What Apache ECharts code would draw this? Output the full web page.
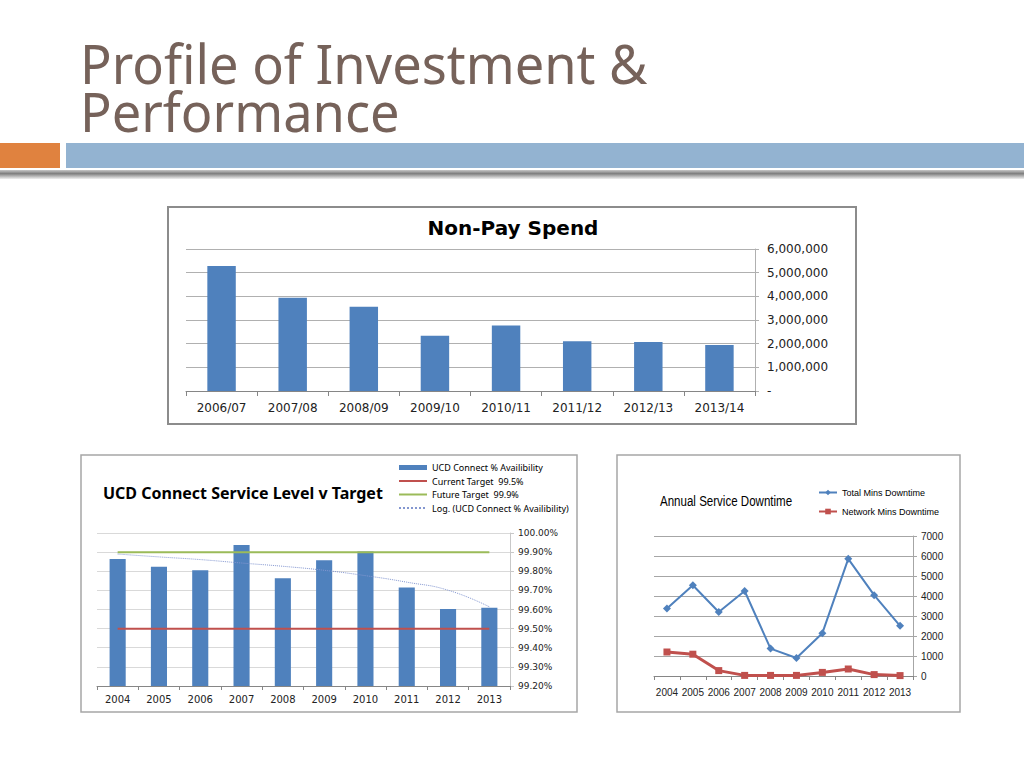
<!DOCTYPE html>
<html><head><meta charset="utf-8">
<script src="https://cdn.jsdelivr.net/npm/echarts@6/dist/echarts.min.js"></script>
<style>html,body{margin:0;padding:0;background:#fff}#c{width:1024px;height:768px}</style>
</head><body><div id="c"></div>
<script>
// ---- Data ----
const spendCategories = ['2006/07','2007/08','2008/09','2009/10','2010/11','2011/12','2012/13','2013/14'];
const spendValues = [5280000, 3940000, 3560000, 2330000, 2770000, 2100000, 2070000, 1940000];

const years = ['2004','2005','2006','2007','2008','2009','2010','2011','2012','2013'];
const availability = [99.864, 99.823, 99.805, 99.937, 99.763, 99.857, 99.903, 99.715, 99.603, 99.609];
const currentTarget = [99.5, 99.5, 99.5, 99.5, 99.5, 99.5, 99.5, 99.5, 99.5, 99.5];
const futureTarget = [99.9, 99.9, 99.9, 99.9, 99.9, 99.9, 99.9, 99.9, 99.9, 99.9];
const availabilityTrend = [99.890, 99.875, 99.861, 99.843, 99.826, 99.805, 99.777, 99.743, 99.701, 99.614];

const totalDowntime = [3370, 4540, 3200, 4250, 1370, 900, 2140, 5860, 4040, 2510];
const networkDowntime = [1200, 1090, 270, 30, 30, 30, 180, 350, 70, 20];

// ---- Styles ----
const BLUE = '#4f81bd', RED = '#c0504d', GREEN = '#9bbb59';
const NARROW = '"Liberation Sans Narrow","Liberation Sans",Arial,sans-serif';

const chart = echarts.init(document.getElementById('c'), null, {renderer: 'svg'});

function fmtThousands(v){
  if (v === 0) return '-';
  return String(v).replace(/\B(?=(\d{3})+(?!\d))/g, ',');
}

const hideSym = {opacity: 0};

const option = {
  animation: false,
  backgroundColor: '#ffffff',
  graphic: [
    {type:'rect', shape:{x:0,y:143,width:60,height:25}, style:{fill:'#e0823f'}},
    {type:'rect', shape:{x:66,y:143,width:958,height:25}, style:{fill:'#93b3d1'}},
    {type:'rect', shape:{x:0,y:170,width:1024,height:9}, style:{fill:new echarts.graphic.LinearGradient(0,0,0,1,[{offset:0,color:'#c8c8c8'},{offset:0.4,color:'#7f7f7f'},{offset:1,color:'#f0f0f0'}])}},
    {type:'text', x:80, y:63, scaleX:0.97, style:{x:0,y:0,text:'Profile of Investment &', fill:'#76625a', font:'54px "Noto Sans"', verticalAlign:'middle', align:'left'}},
    {type:'text', x:80, y:111, scaleX:0.97, style:{x:0,y:0,text:'Performance', fill:'#76625a', font:'54px "Noto Sans"', verticalAlign:'middle', align:'left'}},
    // chart frames
    {type:'rect', shape:{x:168,y:207,width:688,height:217}, style:{fill:'none', stroke:'#8c8c8c', lineWidth:2}},
    {type:'rect', shape:{x:81,y:455,width:496,height:257}, style:{fill:'none', stroke:'#a6a6a6', lineWidth:1.5}},
    {type:'rect', shape:{x:617,y:455,width:343,height:257}, style:{fill:'none', stroke:'#a6a6a6', lineWidth:1.5}},
    // chart titles
    {type:'text', x:513, y:228, style:{text:'Non-Pay Spend', fill:'#000', font:'bold 20px "DejaVu Sans"', align:'center', verticalAlign:'middle'}},
    {type:'text', x:103, y:493, style:{text:'UCD Connect Service Level v Target', fill:'#000', font:'bold 16px "Noto Sans"', align:'left', verticalAlign:'middle'}},
    {type:'text', x:660, y:501, scaleX:0.77, style:{x:0,y:0,text:'Annual Service Downtime', fill:'#000', font:'15px ' + NARROW, align:'left', verticalAlign:'middle'}}
  ],
  legend: [
    {
      orient:'vertical', left:398, top:463, padding:0, itemWidth:28, itemHeight:5, itemGap:4.5,
      textStyle:{fontSize:9, fontFamily:'"Noto Sans"', color:'#000'},
      data:[
        {name:'UCD Connect % Availibility', icon:'rect'},
        {name:'Current Target  99.5%', itemStyle:hideSym},
        {name:'Future Target  99.9%', itemStyle:hideSym},
        {name:'Log. (UCD Connect % Availibility)', itemStyle:hideSym}
      ]
    },
    {
      orient:'vertical', left:818, top:488, padding:0, itemWidth:18, itemHeight:7, itemGap:10,
      textStyle:{fontSize:9, fontFamily:NARROW, color:'#000'},
      data:['Total Mins Downtime','Network Mins Downtime']
    }
  ],
  grid: [
    {left:186, top:249, width:569, height:142},
    {left:97, top:533, width:413, height:153},
    {left:654, top:536, width:259, height:140}
  ],
  xAxis: [
    {gridIndex:0, type:'category', data:spendCategories,
      axisLine:{lineStyle:{color:'#868686'}}, axisTick:{show:true, length:5, lineStyle:{color:'#868686'}},
      axisLabel:{color:'#222', fontSize:12, fontFamily:'"DejaVu Sans"', margin:11, interval:0}},
    {gridIndex:1, type:'category', data:years,
      axisLine:{lineStyle:{color:'#868686'}}, axisTick:{show:true, length:4, lineStyle:{color:'#868686'}},
      axisLabel:{color:'#222', fontSize:10, fontFamily:'"DejaVu Sans"', margin:8, interval:0}},
    {gridIndex:2, type:'category', data:years,
      axisLine:{lineStyle:{color:'#868686'}}, axisTick:{show:true, length:4, lineStyle:{color:'#868686'}},
      axisLabel:{color:'#222', fontSize:10, fontFamily:NARROW, margin:11, interval:0}}
  ],
  yAxis: [
    {gridIndex:0, type:'value', position:'right', min:0, max:6000000, interval:1000000,
      axisLine:{show:true, lineStyle:{color:'#b0b0b0'}}, axisTick:{show:true, length:4, lineStyle:{color:'#b0b0b0'}},
      splitLine:{lineStyle:{color:'#b0b0b0'}},
      axisLabel:{color:'#222', fontSize:12, fontFamily:'"DejaVu Sans"', margin:12, formatter:fmtThousands}},
    {gridIndex:1, type:'value', position:'right', min:99.2, max:100, interval:0.1,
      axisLine:{show:true, lineStyle:{color:'#c8c8c8'}}, axisTick:{show:true, length:4, lineStyle:{color:'#c8c8c8'}},
      splitLine:{lineStyle:{color:'#d9d9d9'}},
      axisLabel:{color:'#222', fontSize:9, fontFamily:'"DejaVu Sans"', margin:8, formatter:v => v.toFixed(2) + '%'}},
    {gridIndex:2, type:'value', position:'right', min:0, max:7000, interval:1000,
      axisLine:{show:true, lineStyle:{color:'#a6a6a6'}}, axisTick:{show:true, length:4, lineStyle:{color:'#a6a6a6'}},
      splitLine:{lineStyle:{color:'#a6a6a6'}},
      axisLabel:{color:'#222', fontSize:10, fontFamily:NARROW, margin:8, formatter:v => String(v)}}
  ],
  series: [
    {name:'Non-Pay Spend', type:'bar', xAxisIndex:0, yAxisIndex:0, data:spendValues, barWidth:'40%', itemStyle:{color:BLUE}},
    {name:'UCD Connect % Availibility', type:'bar', xAxisIndex:1, yAxisIndex:1, data:availability, barWidth:'39%', itemStyle:{color:BLUE}},
    {name:'Current Target  99.5%', type:'line', xAxisIndex:1, yAxisIndex:1, data:currentTarget, symbol:'none', lineStyle:{color:RED, width:2}, itemStyle:{color:RED}},
    {name:'Future Target  99.9%', type:'line', xAxisIndex:1, yAxisIndex:1, data:futureTarget, symbol:'none', lineStyle:{color:GREEN, width:2}, itemStyle:{color:GREEN}},
    {name:'Log. (UCD Connect % Availibility)', type:'line', xAxisIndex:1, yAxisIndex:1, data:availabilityTrend, symbol:'none', smooth:true, lineStyle:{color:'#8497d0', width:1, type:'dotted'}, itemStyle:{color:'#8497d0'}},
    {name:'Total Mins Downtime', type:'line', xAxisIndex:2, yAxisIndex:2, data:totalDowntime, symbol:'diamond', symbolSize:8, lineStyle:{color:BLUE, width:2}, itemStyle:{color:BLUE}},
    {name:'Network Mins Downtime', type:'line', xAxisIndex:2, yAxisIndex:2, data:networkDowntime, symbol:'rect', symbolSize:7, lineStyle:{color:RED, width:3}, itemStyle:{color:RED}}
  ]
};
chart.setOption(option);
</script>
</body></html>
